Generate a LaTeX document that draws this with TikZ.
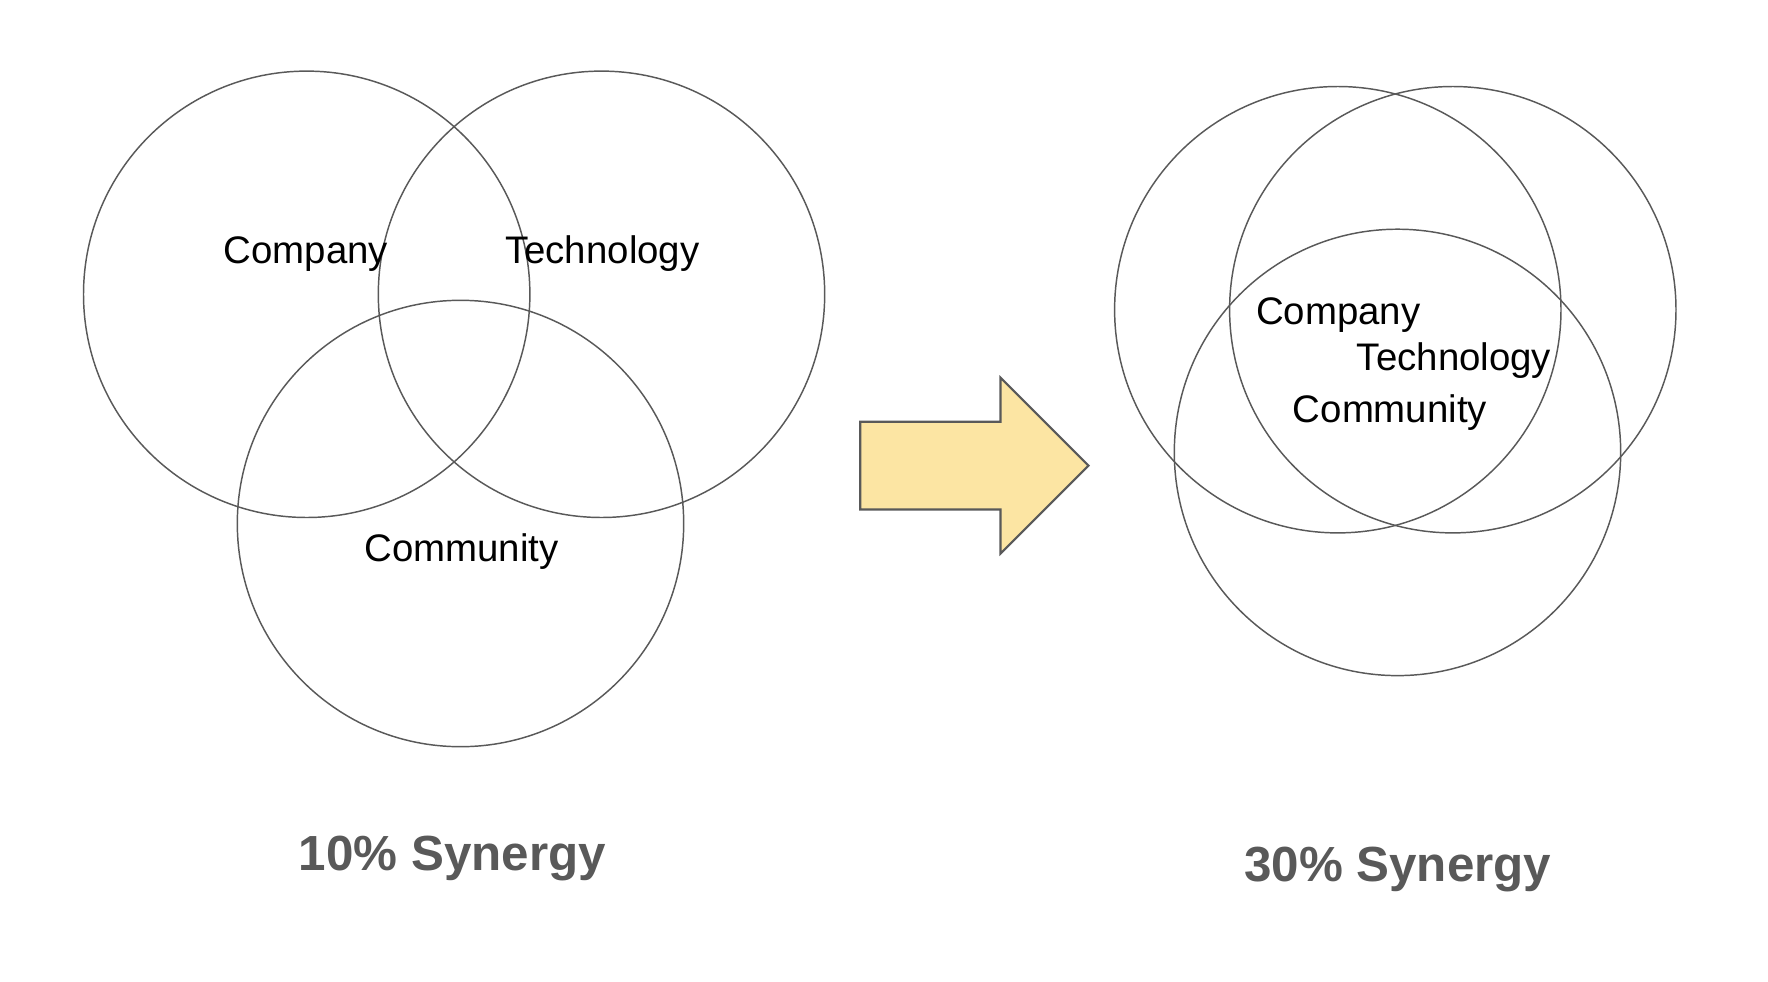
\documentclass[tikz,border=0pt]{standalone}
\usepackage{fontspec}
\setmainfont{Liberation Sans}
\tikzset{every picture/.style={line width=0.75pt}}
\tikzset{
  ring/.style={color={rgb, 255:red, 89; green, 89; blue, 89}, line width=1.1pt},
  lbl/.style={anchor=base, inner sep=0.75pt, font=\fontsize{28.8}{34}\selectfont},
  synergy/.style={anchor=base, inner sep=0.75pt, color={rgb, 255:red, 89; green, 89; blue, 89}, font=\fontsize{37}{44}\selectfont\bfseries}
}

\begin{document}
\begin{tikzpicture}[x=0.75pt,y=0.75pt,yscale=-1,xscale=1]
\useasboundingbox (0,0) rectangle (1768,982);

%Shape: Circle [left company]
\draw [ring] (306.7,294.3) circle [radius=223.2];
%Shape: Circle [left technology]
\draw [ring] (601.5,294.3) circle [radius=223.2];
%Shape: Circle [left community]
\draw [ring] (460.5,523.5) circle [radius=223.2];

%Shape: Right Arrow [id:shift]
\draw [color={rgb, 255:red, 89; green, 89; blue, 89}, line width=1.6pt][fill={rgb, 255:red, 252; green, 229; blue, 163}, fill opacity=1] (860.3,421.7) -- (1000.5,421.7) -- (1000.5,377.7) -- (1088.5,465.7) -- (1000.5,553.5) -- (1000.5,509.5) -- (860.3,509.5) -- cycle ;

%Shape: Circle [right company]
\draw [ring] (1337.8,309.7) circle [radius=223.2];
%Shape: Circle [right technology]
\draw [ring] (1452.8,309.7) circle [radius=223.2];
%Shape: Circle [right community]
\draw [ring] (1397.5,452.4) circle [radius=223.2];

% Text Node
\draw (306,263.5) node [lbl] (cmpL) {Company};
% Text Node
\draw (602.3,263.5) node [lbl] (tecL) {Technology};
% Text Node
\draw (461.4,561.5) node [lbl] (comL) {Community};
% Text Node
\draw (452.5,870) node [synergy] (synL) {10\% Synergy};

% Text Node
\draw (1338.3,324.3) node [lbl] (cmpR) {Company};
% Text Node
\draw (1454,370.3) node [lbl] (tecR) {Technology};
% Text Node
\draw (1390,422) node [lbl] (comR) {Community};
% Text Node
\draw (1397.8,881.7) node [synergy] (synR) {30\% Synergy};

\end{tikzpicture}
\end{document}
